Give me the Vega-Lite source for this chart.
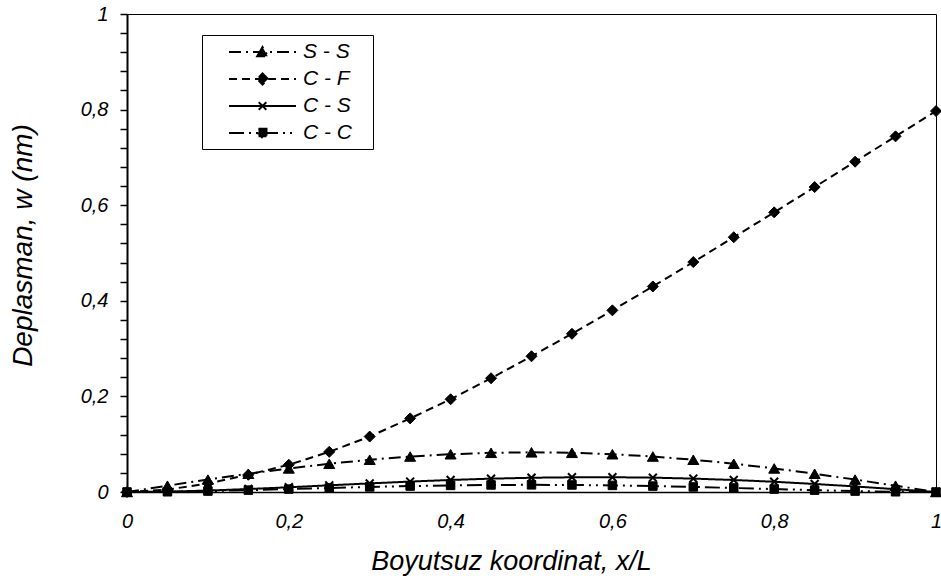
{
  "$schema": "https://vega.github.io/schema/vega-lite/v6.json",
  "width": 809,
  "height": 478,
  "autosize": "none",
  "padding": {"left": 127, "top": 14, "right": 5, "bottom": 93},
  "background": "white",
  "config": {
    "view": {"stroke": "black", "strokeWidth": 1},
    "font": "Liberation Sans"
  },
  "data": {
    "values": [
      {"x": 0, "s": "S - S", "w": 0}, {"x": 0.05, "s": "S - S", "w": 0.0132}, {"x": 0.1, "s": "S - S", "w": 0.026}, {"x": 0.15, "s": "S - S", "w": 0.0382}, {"x": 0.2, "s": "S - S", "w": 0.0493}, {"x": 0.25, "s": "S - S", "w": 0.0591}, {"x": 0.3, "s": "S - S", "w": 0.0675}, {"x": 0.35, "s": "S - S", "w": 0.0742}, {"x": 0.4, "s": "S - S", "w": 0.079}, {"x": 0.45, "s": "S - S", "w": 0.082}, {"x": 0.5, "s": "S - S", "w": 0.083}, {"x": 0.55, "s": "S - S", "w": 0.082}, {"x": 0.6, "s": "S - S", "w": 0.079}, {"x": 0.65, "s": "S - S", "w": 0.0742}, {"x": 0.7, "s": "S - S", "w": 0.0675}, {"x": 0.75, "s": "S - S", "w": 0.0591}, {"x": 0.8, "s": "S - S", "w": 0.0493}, {"x": 0.85, "s": "S - S", "w": 0.0382}, {"x": 0.9, "s": "S - S", "w": 0.026}, {"x": 0.95, "s": "S - S", "w": 0.0132}, {"x": 1, "s": "S - S", "w": 0},
      {"x": 0, "s": "C - F", "w": 0}, {"x": 0.05, "s": "C - F", "w": 0.005}, {"x": 0.1, "s": "C - F", "w": 0.018}, {"x": 0.15, "s": "C - F", "w": 0.036}, {"x": 0.2, "s": "C - F", "w": 0.057}, {"x": 0.25, "s": "C - F", "w": 0.084}, {"x": 0.3, "s": "C - F", "w": 0.116}, {"x": 0.35, "s": "C - F", "w": 0.154}, {"x": 0.4, "s": "C - F", "w": 0.194}, {"x": 0.45, "s": "C - F", "w": 0.238}, {"x": 0.5, "s": "C - F", "w": 0.284}, {"x": 0.55, "s": "C - F", "w": 0.331}, {"x": 0.6, "s": "C - F", "w": 0.38}, {"x": 0.65, "s": "C - F", "w": 0.43}, {"x": 0.7, "s": "C - F", "w": 0.481}, {"x": 0.75, "s": "C - F", "w": 0.533}, {"x": 0.8, "s": "C - F", "w": 0.585}, {"x": 0.85, "s": "C - F", "w": 0.638}, {"x": 0.9, "s": "C - F", "w": 0.691}, {"x": 0.95, "s": "C - F", "w": 0.744}, {"x": 1, "s": "C - F", "w": 0.797},
      {"x": 0, "s": "C - S", "w": 0}, {"x": 0.05, "s": "C - S", "w": 0.0008}, {"x": 0.1, "s": "C - S", "w": 0.003}, {"x": 0.15, "s": "C - S", "w": 0.0062}, {"x": 0.2, "s": "C - S", "w": 0.0099}, {"x": 0.25, "s": "C - S", "w": 0.014}, {"x": 0.3, "s": "C - S", "w": 0.018}, {"x": 0.35, "s": "C - S", "w": 0.0218}, {"x": 0.4, "s": "C - S", "w": 0.0252}, {"x": 0.45, "s": "C - S", "w": 0.0279}, {"x": 0.5, "s": "C - S", "w": 0.0298}, {"x": 0.55, "s": "C - S", "w": 0.0308}, {"x": 0.6, "s": "C - S", "w": 0.0309}, {"x": 0.65, "s": "C - S", "w": 0.03}, {"x": 0.7, "s": "C - S", "w": 0.028}, {"x": 0.75, "s": "C - S", "w": 0.0251}, {"x": 0.8, "s": "C - S", "w": 0.0214}, {"x": 0.85, "s": "C - S", "w": 0.0168}, {"x": 0.9, "s": "C - S", "w": 0.0116}, {"x": 0.95, "s": "C - S", "w": 0.0059}, {"x": 1, "s": "C - S", "w": 0},
      {"x": 0, "s": "C - C", "w": 0}, {"x": 0.05, "s": "C - C", "w": 0.0005}, {"x": 0.1, "s": "C - C", "w": 0.0019}, {"x": 0.15, "s": "C - C", "w": 0.0039}, {"x": 0.2, "s": "C - C", "w": 0.0061}, {"x": 0.25, "s": "C - C", "w": 0.0084}, {"x": 0.3, "s": "C - C", "w": 0.0106}, {"x": 0.35, "s": "C - C", "w": 0.0124}, {"x": 0.4, "s": "C - C", "w": 0.0138}, {"x": 0.45, "s": "C - C", "w": 0.0147}, {"x": 0.5, "s": "C - C", "w": 0.015}, {"x": 0.55, "s": "C - C", "w": 0.0147}, {"x": 0.6, "s": "C - C", "w": 0.0138}, {"x": 0.65, "s": "C - C", "w": 0.0124}, {"x": 0.7, "s": "C - C", "w": 0.0106}, {"x": 0.75, "s": "C - C", "w": 0.0084}, {"x": 0.8, "s": "C - C", "w": 0.0061}, {"x": 0.85, "s": "C - C", "w": 0.0039}, {"x": 0.9, "s": "C - C", "w": 0.0019}, {"x": 0.95, "s": "C - C", "w": 0.0005}, {"x": 1, "s": "C - C", "w": 0}
    ]
  },
  "encoding": {
    "x": {
      "field": "x", "type": "quantitative",
      "scale": {"domain": [0, 1], "nice": false, "zero": false},
      "axis": {
        "title": "Boyutsuz koordinat, x/L",
        "values": [0, 0.2, 0.4, 0.6, 0.8, 1],
        "labelExpr": "replace(format(datum.value, '~g'), '.', ',')",
        "grid": false, "ticks": false, "tickSize": 0,
        "labelPadding": 19, "labelFlush": false, "labelOverlap": false,
        "labelFont": "Liberation Sans", "labelFontStyle": "italic", "labelFontSize": 20, "labelColor": "black",
        "titleFont": "Liberation Sans", "titleFontStyle": "italic", "titleFontWeight": "normal", "titleFontSize": 27, "titleColor": "black",
        "titlePadding": 17, "titleX": 384,
        "domainColor": "black", "domainWidth": 1.5
      }
    },
    "y": {
      "field": "w", "type": "quantitative",
      "scale": {"domain": [0, 1], "nice": false, "zero": false},
      "axis": {
        "title": "Deplasman, w (nm)",
        "values": [0, 0.04, 0.08, 0.12, 0.16, 0.2, 0.24, 0.28, 0.32, 0.36, 0.4, 0.44, 0.48, 0.52, 0.56, 0.6, 0.64, 0.68, 0.72, 0.76, 0.8, 0.84, 0.88, 0.92, 0.96, 1],
        "labelExpr": "abs(datum.value * 5 - round(datum.value * 5)) < 0.001 ? replace(format(datum.value, '~g'), '.', ',') : ''",
        "grid": false, "tickSize": 7, "tickColor": "black", "tickWidth": 1.5,
        "labelPadding": 12, "labelFlush": false, "labelOverlap": false,
        "labelFont": "Liberation Sans", "labelFontStyle": "italic", "labelFontSize": 20, "labelColor": "black",
        "titleFont": "Liberation Sans", "titleFontStyle": "italic", "titleFontWeight": "normal", "titleFontSize": 28, "titleColor": "black",
        "titlePadding": 43, "titleY": 231,
        "domainColor": "black", "domainWidth": 2,
        "encode": {
          "ticks": {
            "update": {
              "x": {"value": 6},
              "x2": {"signal": "abs(datum.value * 5 - round(datum.value * 5)) < 0.001 ? -7 : 0"}
            }
          }
        }
      }
    }
  },
  "layer": [
    {
      "mark": {"type": "line", "color": "black", "strokeWidth": 2, "clip": false},
      "encoding": {
        "detail": {"field": "s"},
        "strokeDash": {
          "field": "s", "type": "nominal",
          "scale": {
            "domain": ["S - S", "C - F", "C - S", "C - C"],
            "range": [[12, 5, 2, 5], [8, 5], [1, 0], [15, 5, 2, 5, 2, 5]]
          },
          "legend": {
            "orient": "none", "legendX": 75, "legendY": 21, "title": null,
            "strokeColor": "black", "fillColor": "white", "padding": 6,
            "labelFont": "Liberation Sans", "labelFontStyle": "italic", "labelFontSize": 21, "labelColor": "black",
            "labelExpr": "datum.label + '\u2800'",
            "symbolSize": 400, "symbolStrokeColor": "black", "symbolStrokeWidth": 2, "symbolFillColor": "black",
            "symbolOffset": 20, "labelOffset": 53, "rowPadding": 6,
            "encode": {
              "symbols": {
                "update": {
                  "fill": {"value": "black"},
                  "stroke": {"value": "black"},
                  "shape": {"signal": "datum.value === 'S - S' ? 'M-1,0H5.7M1.82,0.42L2.35,-0.5L2.88,0.42Z' : datum.value === 'C - F' ? 'M-1,0H5.7M2.35,-0.55L2.9,0L2.35,0.55L1.8,0Z' : datum.value === 'C - S' ? 'M-1,0H5.7M1.97,-0.38L2.73,0.38M1.97,0.38L2.73,-0.38' : 'M-1,0H5.7M1.95,-0.42H2.75V0.42H1.95Z'"}
                }
              }
            }
          }
        }
      }
    },
    {
      "transform": [{"filter": "datum.s === 'S - S'"}],
      "mark": {"type": "point", "shape": "triangle-up", "filled": true, "color": "black", "stroke": "black", "strokeWidth": 1, "opacity": 1, "size": 121, "clip": false}
    },
    {
      "transform": [{"filter": "datum.s === 'C - F'"}],
      "mark": {"type": "point", "shape": "diamond", "filled": true, "color": "black", "stroke": "black", "strokeWidth": 1, "opacity": 1, "size": 121, "clip": false}
    },
    {
      "transform": [{"filter": "datum.s === 'C - S'"}],
      "mark": {"type": "point", "shape": "M-0.72,-0.72L0.72,0.72M-0.72,0.72L0.72,-0.72", "filled": false, "color": "black", "strokeWidth": 2, "opacity": 1, "size": 121, "clip": false}
    },
    {
      "transform": [{"filter": "datum.s === 'C - C'"}],
      "mark": {"type": "point", "shape": "square", "filled": true, "color": "black", "stroke": "black", "strokeWidth": 1, "opacity": 1, "size": 72, "clip": false}
    }
  ]
}
